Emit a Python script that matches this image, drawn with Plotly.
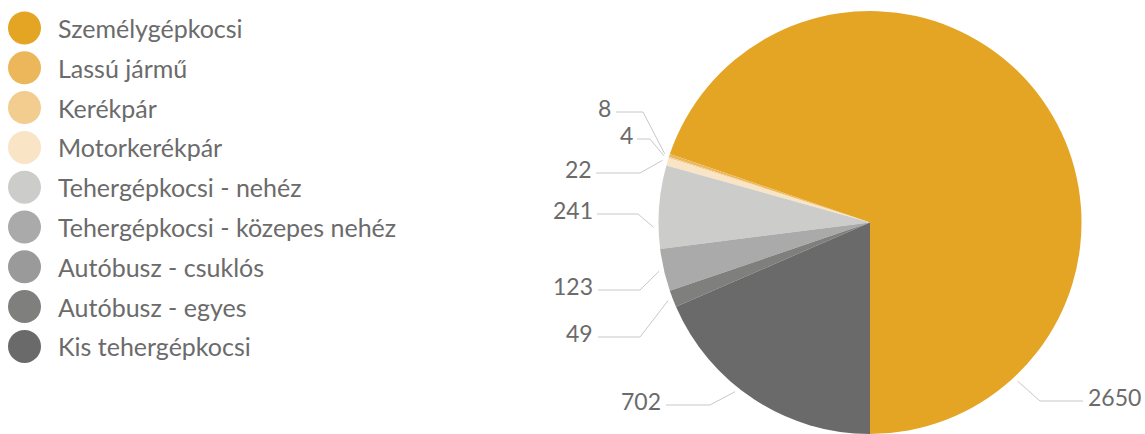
import numpy as np
import plotly.graph_objects as go

# --- data -------------------------------------------------------------
categories = [
    "Személygépkocsi",
    "Lassú jármű",
    "Kerékpár",
    "Motorkerékpár",
    "Tehergépkocsi - nehéz",
    "Tehergépkocsi - közepes nehéz",
    "Autóbusz - csuklós",
    "Autóbusz - egyes",
    "Kis tehergépkocsi",
]
counts = [2650, 8, 4, 22, 241, 123, 0, 49, 702]
colors = [
    "#E4A525", "#ECB75A", "#F2CD8F", "#F9E4C6",
    "#CCCCCB", "#A9AAA9", "#9A9A9A", "#7F7F7E", "#6A6A6A",
]

# --- layout constants -------------------------------------------------
W, H = 1145, 434
FONT = "Lato"
TEXT_COLOR = "#6B6B6B"
LEADER_COLOR = "#C8C8C8"

CX, TOP = 870, 11
R = (H - TOP) / 2
CY = TOP + R

# value-label placement: (position inside slice, line y, elbow x, line end x, text x, side)
label_layout = {
    0: (0.171, 401, 1040, 1083, 1087, "right"),
    1: (0.5, 112, 643, 616, 612, "left"),
    2: (0.5, 139, 650, 637, 634, "left"),
    3: (0.5, 173, 640, 596, 593, "left"),
    4: (0.74, 214, 638, 597, 594, "left"),
    5: (0.5, 290, 640, 598, 594, "left"),
    7: (0.5, 337, 640, 598, 594, "left"),
    8: (0.42, 405, 710, 666, 662, "left"),
}

# slice angles (screen degrees, counter-clockwise from 3 o'clock)
total = float(sum(counts))
spans = np.array(counts) / total * 360.0
starts = -90.0 + np.concatenate([[0.0], np.cumsum(spans)[:-1]])

fig = go.Figure()

# pie: first slice starts at 6 o'clock and sweeps counter-clockwise
# (in counter-clockwise mode plotly places the first slice clockwise of `rotation`)
fig.add_trace(go.Pie(
    values=counts,
    labels=categories,
    marker=dict(colors=colors, line=dict(width=0)),
    sort=False,
    direction="counterclockwise",
    rotation=180.0 - spans[0],
    textinfo="none",
    hoverinfo="label+value",
    showlegend=False,
    domain=dict(x=[(CX - R) / W, (CX + R) / W], y=[0, 1 - TOP / H]),
))

annotations = []
GAP = 5
for i, (frac, ly, ex, endx, tx, side) in label_layout.items():
    ang = np.deg2rad(starts[i] + frac * spans[i])
    ax = CX + (R + GAP) * np.cos(ang)
    ay = CY - (R + GAP) * np.sin(ang)
    fig.add_trace(go.Scatter(
        x=[ax, ex, endx], y=[ay, ly, ly],
        mode="lines", line=dict(color=LEADER_COLOR, width=1),
        hoverinfo="skip", showlegend=False,
    ))
    annotations.append(dict(
        x=tx, y=ly - 4, xref="x", yref="y",
        text=str(counts[i]), showarrow=False,
        xanchor="left" if side == "right" else "right", yanchor="middle",
        borderpad=0,
        font=dict(family=FONT, size=23, color=TEXT_COLOR),
    ))

# legend: large dots with category names
ROW0, ROW_STEP = 28, 39.8
rows = [ROW0 + k * ROW_STEP for k in range(len(categories))]
fig.add_trace(go.Scatter(
    x=[24.5] * len(categories), y=rows,
    mode="markers",
    marker=dict(size=33, color=colors, line=dict(width=0)),
    hoverinfo="skip", showlegend=False,
))
for k, name in enumerate(categories):
    annotations.append(dict(
        x=56, y=rows[k], xref="x", yref="y",
        text=name, showarrow=False,
        xanchor="left", yanchor="middle",
        font=dict(family=FONT, size=25, color=TEXT_COLOR),
    ))

fig.update_layout(
    width=W, height=H,
    margin=dict(l=0, r=0, t=0, b=0),
    paper_bgcolor="white", plot_bgcolor="white",
    xaxis=dict(range=[0, W], visible=False, fixedrange=True),
    yaxis=dict(range=[H, 0], visible=False, fixedrange=True),
    annotations=annotations,
    showlegend=False,
)

fig.write_html("out.html")
